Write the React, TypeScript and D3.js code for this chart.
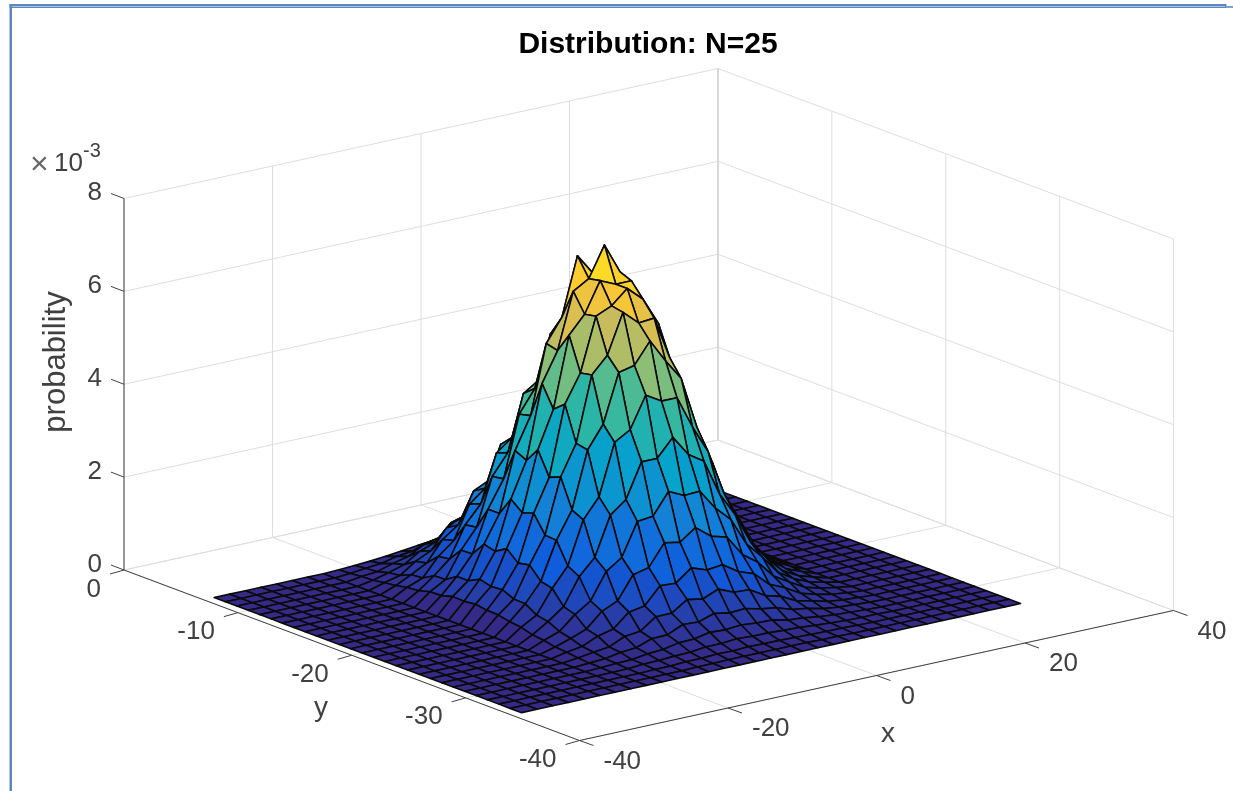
import React, { useEffect, useRef } from 'react';
import * as d3 from 'd3';

const xTicks = [-40, -20, 0, 20, 40];
const yTicks = [0, -10, -20, -30, -40];
const zTicks = [0, 2, 4, 6, 8];

// surface grid, far row first
const gridX = [-38.6, -36.5, -34.4, -32.3, -30.2, -28.1, -26, -23.9, -21.8, -19.7, -17.6, -15.5, -13.4, -11.3, -9.2, -7.1, -5, -2.9, -0.8, 1.3, 3.4, 5.5, 7.6, 9.7, 11.8, 13.9, 16, 18.1, 20.2, 22.3, 24.4, 26.5, 28.6];
const gridY = [-7, -8, -9, -10, -11, -12, -13, -14, -15, -16, -17, -18, -19, -20, -21, -22, -23, -24, -25, -26, -27, -28, -29, -30, -31, -32, -33, -34];

// probability (x 1e-3), only the columns of the hill (the rest is 0)
const firstHillColumn = 8;
const hillRows = [
  [.01, .03, .05, .08, .12, .16, .2, .23, .25, .25, .24, .21, .17, .12, .08, .05, .03, .01, .01],
  [.02, .06, .09, .17, .21, .33, .37, .47, .47, .52, .46, .44, .31, .25, .15, .1, .05, .03, .01],
  [.05, .08, .18, .26, .44, .52, .75, .76, .93, .85, .9, .71, .63, .41, .3, .17, .1, .05, .02],
  [.06, .15, .25, .46, .59, .93, 1.02, 1.33, 1.3, 1.48, 1.28, 1.23, .88, .71, .43, .29, .14, .08, .03],
  [.1, .18, .41, .57, .99, 1.15, 1.66, 1.7, 2.06, 1.92, 1.98, 1.6, 1.39, .92, .68, .38, .23, .1, .05],
  [.13, .29, .47, .9, 1.14, 1.8, 1.96, 2.58, 2.52, 2.85, 2.46, 2.34, 1.72, 1.37, .84, .55, .28, .15, .07],
  [.18, .31, .7, .97, 1.68, 1.95, 2.82, 2.9, 3.5, 3.26, 3.36, 2.74, 2.36, 1.58, 1.14, .64, .38, .18, .09],
  [.2, .45, .74, 1.4, 1.78, 2.8, 3.06, 3.98, 3.94, 4.38, 3.88, 3.62, 2.7, 2.12, 1.32, .85, .44, .24, .1],
  [.27, .46, 1.02, 1.44, 2.46, 2.9, 4.1, 4.32, 5.05, 4.86, 4.88, 4.06, 3.44, 2.36, 1.68, .96, .56, .27, .13],
  [.28, .62, 1.03, 1.92, 2.5, 3.82, 4.3, 5.4, 5.5, 5.95, 5.42, 4.95, 3.76, 2.9, 1.84, 1.17, .62, .32, .15],
  [.35, .62, 1.33, 1.92, 3.2, 3.88, 5.36, 5.85, 7.1, 6.65, 6.3, 5.38, 4.5, 3.14, 2.2, 1.28, .74, .36, .17],
  [.34, .74, 1.27, 2.32, 3.08, 4.66, 5.3, 6.5, 6.7, 7.35, 6.7, 6, 4.6, 3.54, 2.25, 1.43, .76, .4, .18],
  [.37, .68, 1.42, 2.12, 3.4, 4.2, 5.72, 6.1, 6.75, 6.6, 6.6, 5.8, 4.85, 3.38, 2.36, 1.38, .8, .39, .18],
  [.33, .7, 1.2, 2.2, 2.9, 4.4, 5, 6.15, 6.3, 6.6, 6.3, 5.7, 4.35, 3.32, 2.12, 1.35, .72, .38, .17],
  [.32, .59, 1.25, 1.82, 3, 3.65, 5.05, 5.4, 6.25, 5.95, 5.98, 5.05, 4.22, 2.95, 2.06, 1.2, .69, .34, .16],
  [.27, .58, .99, 1.8, 2.38, 3.6, 4.08, 5.12, 5.2, 5.65, 5.15, 4.7, 3.58, 2.74, 1.75, 1.11, .59, .31, .14],
  [.24, .43, .93, 1.34, 2.26, 2.68, 3.78, 3.98, 4.65, 4.45, 4.45, 3.74, 3.14, 2.18, 1.54, .89, .52, .25, .12],
  [.17, .38, .63, 1.2, 1.54, 2.38, 2.64, 3.38, 3.38, 3.76, 3.32, 3.1, 2.32, 1.8, 1.13, .73, .38, .2, .09],
  [.14, .26, .55, .77, 1.33, 1.56, 2.26, 2.3, 2.76, 2.6, 2.62, 2.18, 1.86, 1.26, .91, .51, .3, .15, .07],
  [.09, .2, .33, .64, .79, 1.28, 1.36, 1.82, 1.76, 2, 1.74, 1.65, 1.2, .96, .59, .39, .2, .11, .05],
  [.07, .12, .27, .35, .64, .7, 1.06, 1.04, 1.3, 1.18, 1.22, 1, .88, .58, .43, .24, .14, .07, .03],
  [.04, .09, .13, .28, .32, .56, .56, .78, .72, .86, .72, .7, .5, .41, .24, .17, .08, .04, .02],
  [.02, .04, .1, .13, .25, .26, .41, .39, .5, .44, .46, .38, .33, .22, .17, .09, .05, .03, .01],
  [.01, .03, .04, .09, .11, .18, .19, .26, .24, .27, .24, .23, .16, .13, .08, .05, .03, .01, 0],
  [0, .01, .03, .04, .06, .07, .11, .11, .14, .12, .12, .1, .09, .06, .04, .02, .01, .01, 0],
  [0, 0, .01, .01, .03, .03, .05, .04, .06, .05, .05, .04, .03, .02, .02, .01, 0, 0, 0],
  [0, 0, 0, 0, .01, .01, .02, .02, .02, .02, .02, .02, .01, .01, 0, 0, 0, 0, 0],
  [0, 0, 0, 0, 0, 0, 0, 0, 0, 0, 0, 0, 0, 0, 0, 0, 0, 0, 0],
];

const parulaStops = ['#352a87', '#0f5cdd', '#1481d6', '#06a4ca', '#2eb7a4', '#87bf77', '#d1bb59', '#fec832', '#f9fb0e'];

const App = () => {
  const chartRef = useRef<SVGSVGElement>(null);

  useEffect(() => {
    const svg = d3.select(chartRef.current);
    svg.selectAll('*').remove();

    // axes are an affine projection, one scale per screen component
    const xToLeft = d3.scaleLinear().domain([-40, 40]).range([0, 594]);
    const xToTop = d3.scaleLinear().domain([-40, 40]).range([0, -130]);
    const yToLeft = d3.scaleLinear().domain([0, -40]).range([0, 455.5]);
    const yToTop = d3.scaleLinear().domain([0, -40]).range([0, 170.5]);
    const zToTop = d3.scaleLinear().domain([0, 8]).range([0, -371.5]);
    const project = (x: number, y: number, z: number): [number, number] => [
      124 + xToLeft(x) + yToLeft(y),
      570 + xToTop(x) + yToTop(y) + zToTop(z),
    ];

    const zMax = d3.max(hillRows, (r) => d3.max(r)) as number;
    const color = d3.scaleLinear<string>()
      .domain(parulaStops.map((_, i) => (i * zMax) / (parulaStops.length - 1)))
      .range(parulaStops)
      .interpolate(d3.interpolateRgb);

    const line = d3.line();
    const edge = (a: [number, number], b: [number, number], stroke: string, width = 1) => {
      svg.append('path').attr('d', line([a, b])).attr('fill', 'none').attr('stroke', stroke).attr('stroke-width', width);
    };

    // window frame of the screenshot
    svg.append('rect').attr('x', 9.5).attr('y', 4).attr('width', 1217).attr('height', 4).attr('fill', '#5b86c0');
    svg.append('rect').attr('x', 12).attr('y', 6).attr('width', 1213).attr('height', 1).attr('fill', '#a9c3e6');
    svg.append('rect').attr('x', 1226).attr('y', 6).attr('width', 7).attr('height', 2).attr('fill', '#7ea3d2');
    svg.append('rect').attr('x', 9.5).attr('y', 4).attr('width', 2.5).attr('height', 787).attr('fill', '#5b86c0');

    const gridColor = '#dedede';
    const zMin = zTicks[0];
    const zTop = zTicks[zTicks.length - 1];
    xTicks.forEach((x) => {
      edge(project(x, 0, zMin), project(x, -40, zMin), gridColor);
      edge(project(x, 0, zMin), project(x, 0, zTop), gridColor);
    });
    yTicks.forEach((y) => {
      edge(project(-40, y, zMin), project(40, y, zMin), gridColor);
      edge(project(40, y, zMin), project(40, y, zTop), gridColor);
    });
    zTicks.forEach((z) => {
      edge(project(-40, 0, z), project(40, 0, z), gridColor);
      edge(project(40, 0, z), project(40, -40, z), gridColor);
    });
    edge(project(40, 0, zMin), project(40, 0, zTop), '#cfcfcf', 1.2);

    // axis lines and ticks
    const axisColor = '#404040';
    edge(project(-40, 0, zMin), project(-40, 0, zTop), axisColor);
    edge(project(-40, 0, zMin), project(-40, -40, zMin), axisColor);
    edge(project(-40, -40, zMin), project(40, -40, zMin), axisColor);

    const label = (text: string, x: number, y: number, anchor: string, size = 26) =>
      svg.append('text')
        .attr('x', x)
        .attr('y', y)
        .attr('text-anchor', anchor)
        .attr('font-family', '"Liberation Sans", Arial, sans-serif')
        .attr('font-size', size)
        .attr('fill', axisColor)
        .text(text);

    zTicks.forEach((z) => {
      const [px, py] = project(-40, 0, z);
      edge([px, py], [px - 13, py - 5], axisColor);
      label(String(z), px - 22, py + 1.5, 'end');
    });
    yTicks.forEach((y) => {
      const [px, py] = project(-40, y, zMin);
      edge([px, py], [px - 14, py + 4], axisColor);
      label(String(y), px - 23, py + 26.5, 'end');
    });
    xTicks.forEach((x) => {
      const [px, py] = project(x, -40, zMin);
      edge([px, py], [px + 14, py + 5], axisColor);
      label(String(x), px + 24, py + 28, 'start');
    });

    label('x', 888, 742, 'middle', 28);
    label('y', 321, 716, 'middle', 28);
    label('probability', 0, 0, 'middle', 31).attr('transform', 'translate(65,362) rotate(-90)');

    label('×', 30, 174, 'start', 32).attr('fill', '#666');
    label('10', 54, 171, 'start');
    label('-3', 83, 157, 'start', 20);

    label('Distribution: N=25', 648, 53, 'middle', 30)
      .attr('font-weight', 'bold')
      .attr('fill', '#000');

    // surface: far cells first so nearer ones paint over them
    const height = (i: number, j: number) => hillRows[i][j - firstHillColumn] ?? 0;
    const surface = svg.append('g').attr('stroke', '#0a0a0a').attr('stroke-width', 1.6).attr('stroke-linejoin', 'round');
    for (let i = 0; i < gridY.length - 1; i++) {
      for (let j = gridX.length - 2; j >= 0; j--) {
        const cell: [number, number][] = [
          project(gridX[j], gridY[i], height(i, j)),
          project(gridX[j + 1], gridY[i], height(i, j + 1)),
          project(gridX[j + 1], gridY[i + 1], height(i + 1, j + 1)),
          project(gridX[j], gridY[i + 1], height(i + 1, j)),
        ];
        surface.append('path')
          .attr('d', line(cell) + 'Z')
          .attr('fill', color(height(i + 1, j)));
      }
    }
  }, []);

  return (
    <svg
      ref={chartRef}
      width={1233}
      height={791}
      style={{ position: 'absolute', left: 0, top: 0, background: '#fff', filter: 'blur(0.45px)' }}
    />
  );
};

export default App;
